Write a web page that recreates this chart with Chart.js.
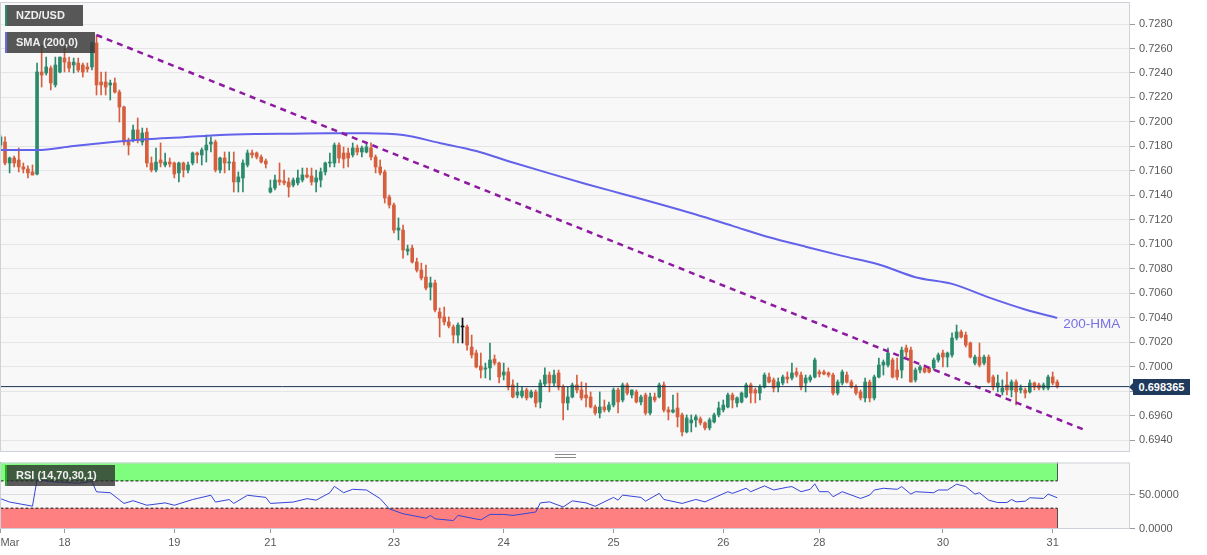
<!DOCTYPE html>
<html>
<head>
<meta charset="utf-8">
<script src="https://cdn.jsdelivr.net/npm/chart.js@4.4.0/dist/chart.umd.min.js"></script>
<style>
  html, body { margin: 0; padding: 0; background: #fff; }
  body { width: 1207px; height: 555px; overflow: hidden; position: relative; font-family: 'Liberation Sans', Arial, sans-serif; }
  canvas { position: absolute; left: 0; }
  #mainCanvas { top: 0; }
  #rsiCanvas { top: 455px; }
  .tag { position: absolute; height: 21px; line-height: 21px; color: #f0f0f0; font-size: 11px; font-weight: bold; padding-left: 9px; box-sizing: border-box; white-space: nowrap; }
  #tagPair { left: 5px; top: 5px; width: 78px; background: rgba(60,60,60,0.86); border-left: 2px solid #2a8a6a; }
  #tagSma { left: 5px; top: 32px; width: 90px; background: rgba(60,60,60,0.86); border-left: 2px solid #6a6ad8; }
  #tagRsi { left: 5px; top: 465px; width: 110px; background: rgba(45,45,45,0.78); border-left: 2px solid #22b022; }
  #hmaTag { position: absolute; color: #7a70e6; font-size: 13.5px; line-height: 16px; white-space: nowrap; }
  #priceTag { position: absolute; left: 1133px; width: 57px; height: 16px; line-height: 16px; background: #1f3a5c; color: #fff; font-size: 11px; font-weight: bold; text-align: center; }
  #priceTag:before { content: ''; position: absolute; left: -4px; top: 4px; border-top: 4px solid transparent; border-bottom: 4px solid transparent; border-right: 4px solid #1f3a5c; }
  #handle { position: absolute; left: 555px; top: 454px; width: 21px; height: 2px; border-top: 1px solid #8a8a8a; border-bottom: 1px solid #8a8a8a; }
</style>
</head>
<body>
<canvas id="mainCanvas" width="1207" height="455"></canvas>
<canvas id="rsiCanvas" width="1207" height="100"></canvas>
<div class="tag" id="tagPair">NZD/USD</div>
<div class="tag" id="tagSma">SMA (200,0)</div>
<div class="tag" id="tagRsi">RSI (14,70,30,1)</div>
<div id="hmaTag">200-HMA</div>
<div id="priceTag">0.698365</div>
<div id="handle"></div>
<script>
// ---------- DATA (hourly NZD/USD candles, index 0 = first candle) ----------
const tickIdx = [0, 14, 38, 59, 86, 110, 134, 158, 179, 206, 230];
const tickLabels = ['Mar', '18', '19', '21', '23', '24', '25', '26', '28', '30', '31'];
const yTicks = [0.6940, 0.6960, 0.6980, 0.7000, 0.7020, 0.7040, 0.7060, 0.7080, 0.7100, 0.7120, 0.7140, 0.7160, 0.7180, 0.7200, 0.7220, 0.7240, 0.7260, 0.7280];
const rsiTicks = [0, 50];

const open = [
0.71811,0.71836,0.71664,0.71705,0.71689,0.71632,0.71615,0.71591,0.71574,0.72408,
0.72400,0.72440,0.72302,0.72408,0.72522,0.72489,0.72465,0.72481,0.72465,0.72449,
0.72449,0.72645,0.72326,0.72326,0.72302,0.72318,0.72244,0.72122,0.71836,0.71852,
0.71934,0.71836,0.71917,0.71664,0.71607,0.71689,0.71648,0.71672,0.71664,0.71583,
0.71664,0.71607,0.71664,0.71746,0.71730,0.71770,0.71819,0.71836,0.71607,0.71705,
0.71664,0.71672,0.71509,0.71542,0.71648,0.71746,0.71746,0.71713,0.71681,0.71427,
0.71460,0.71525,0.71517,0.71509,0.71484,0.71501,0.71525,0.71566,0.71558,0.71509,
0.71525,0.71591,0.71664,0.71664,0.71811,0.71746,0.71746,0.71730,0.71787,0.71754,
0.71754,0.71787,0.71713,0.71632,0.71591,0.71386,0.71321,0.71116,0.71116,0.70944,
0.70969,0.70855,0.70789,0.70732,0.70650,0.70683,0.70446,0.70406,0.70365,0.70324,
0.70258,0.70324,0.70324,0.70160,0.70111,0.70005,0.69980,0.69989,0.70062,0.70029,
0.69931,0.69956,0.69850,0.69768,0.69760,0.69809,0.69752,0.69793,0.69711,0.69858,
0.69931,0.69866,0.69948,0.69833,0.69703,0.69752,0.69850,0.69809,0.69768,0.69752,
0.69670,0.69621,0.69670,0.69646,0.69686,0.69809,0.69727,0.69850,0.69768,0.69793,
0.69711,0.69768,0.69621,0.69752,0.69752,0.69850,0.69646,0.69629,0.69662,0.69605,
0.69466,0.69540,0.69564,0.69572,0.69540,0.69499,0.69548,0.69605,0.69646,0.69670,
0.69768,0.69703,0.69711,0.69752,0.69850,0.69809,0.69784,0.69833,0.69915,0.69891,
0.69833,0.69866,0.69915,0.69907,0.69956,0.69931,0.69866,0.69891,0.69915,0.69956,
0.69956,0.69948,0.69931,0.69784,0.69866,0.69931,0.69874,0.69833,0.69793,0.69744,
0.69874,0.69744,0.69915,0.70013,0.70013,0.70054,0.69972,0.69972,0.70152,0.70135,
0.69891,0.69972,0.69989,0.69989,0.69989,0.70054,0.70111,0.70078,0.70095,0.70234,
0.70283,0.70258,0.70193,0.70029,0.70078,0.70029,0.70078,0.69915,0.69833,0.69793,
0.69850,0.69809,0.69874,0.69809,0.69809,0.69793,0.69866,0.69850,0.69825,0.69825,
0.69915,0.69874];

const high = [
0.71893,0.71877,0.71713,0.71721,0.71787,0.71664,0.71640,0.71648,0.72481,0.72628,
0.72530,0.72457,0.72530,0.72530,0.72612,0.72530,0.72522,0.72522,0.72481,0.72481,
0.72653,0.72710,0.72408,0.72408,0.72342,0.72359,0.72261,0.72130,0.71868,0.71975,
0.72032,0.71950,0.71950,0.71713,0.71787,0.71828,0.71746,0.71705,0.71672,0.71672,
0.71672,0.71672,0.71754,0.71754,0.71787,0.71893,0.71877,0.71852,0.71713,0.71754,
0.71754,0.71754,0.71591,0.71689,0.71770,0.71770,0.71754,0.71730,0.71697,0.71525,
0.71566,0.71664,0.71607,0.71542,0.71542,0.71607,0.71623,0.71623,0.71623,0.71607,
0.71623,0.71672,0.71746,0.71828,0.71828,0.71795,0.71787,0.71828,0.71811,0.71803,
0.71836,0.71828,0.71730,0.71689,0.71607,0.71403,0.71337,0.71215,0.71157,0.70993,
0.70993,0.70887,0.70846,0.70830,0.70732,0.70708,0.70479,0.70487,0.70406,0.70340,
0.70357,0.70397,0.70340,0.70258,0.70135,0.70111,0.70029,0.70193,0.70095,0.70037,
0.70029,0.69989,0.69891,0.69866,0.69833,0.69825,0.69809,0.69809,0.69891,0.69989,
0.69956,0.69972,0.69972,0.69850,0.69833,0.69866,0.69931,0.69874,0.69866,0.69793,
0.69686,0.69793,0.69727,0.69711,0.69825,0.69825,0.69866,0.69866,0.69809,0.69809,
0.69768,0.69784,0.69784,0.69784,0.69866,0.69874,0.69670,0.69768,0.69784,0.69621,
0.69605,0.69605,0.69605,0.69589,0.69548,0.69580,0.69621,0.69711,0.69727,0.69784,
0.69784,0.69752,0.69793,0.69866,0.69866,0.69825,0.69850,0.69948,0.69948,0.69907,
0.69907,0.69931,0.69956,0.70029,0.69989,0.69956,0.69931,0.69931,0.70070,0.69972,
0.69972,0.69956,0.69948,0.69891,0.69972,0.69956,0.69891,0.69850,0.69809,0.69907,
0.69891,0.69931,0.70070,0.70054,0.70152,0.70070,0.70070,0.70160,0.70176,0.70160,
0.69989,0.70013,0.70013,0.69997,0.70070,0.70111,0.70135,0.70119,0.70275,0.70340,
0.70299,0.70283,0.70201,0.70095,0.70193,0.70095,0.70095,0.69931,0.69931,0.69891,
0.69956,0.69891,0.69891,0.69850,0.69825,0.69891,0.69874,0.69866,0.69866,0.69931,
0.69956,0.69891];

const low = [
0.71770,0.71648,0.71583,0.71632,0.71591,0.71583,0.71542,0.71566,0.71566,0.72285,
0.72383,0.72261,0.72285,0.72400,0.72408,0.72408,0.72400,0.72408,0.72367,0.72408,
0.72424,0.72220,0.72220,0.72220,0.72179,0.72236,0.71999,0.71811,0.71730,0.71836,
0.71828,0.71811,0.71632,0.71591,0.71591,0.71632,0.71632,0.71632,0.71542,0.71509,
0.71550,0.71583,0.71648,0.71664,0.71648,0.71672,0.71754,0.71591,0.71583,0.71583,
0.71607,0.71427,0.71427,0.71427,0.71632,0.71705,0.71697,0.71664,0.71623,0.71419,
0.71444,0.71484,0.71484,0.71386,0.71468,0.71484,0.71509,0.71542,0.71484,0.71427,
0.71468,0.71566,0.71632,0.71632,0.71664,0.71623,0.71632,0.71713,0.71730,0.71713,
0.71746,0.71689,0.71583,0.71566,0.71337,0.71296,0.71092,0.71035,0.70887,0.70912,
0.70846,0.70773,0.70708,0.70626,0.70544,0.70446,0.70242,0.70340,0.70316,0.70193,
0.70193,0.70193,0.70135,0.70070,0.69989,0.69907,0.69907,0.69891,0.70013,0.69866,
0.69891,0.69809,0.69744,0.69744,0.69744,0.69727,0.69744,0.69670,0.69662,0.69841,
0.69793,0.69841,0.69809,0.69564,0.69646,0.69744,0.69784,0.69727,0.69670,0.69662,
0.69605,0.69580,0.69629,0.69629,0.69670,0.69621,0.69711,0.69768,0.69744,0.69703,
0.69686,0.69605,0.69605,0.69711,0.69744,0.69629,0.69564,0.69621,0.69507,0.69433,
0.69458,0.69466,0.69507,0.69523,0.69482,0.69482,0.69540,0.69589,0.69629,0.69662,
0.69662,0.69670,0.69703,0.69744,0.69703,0.69703,0.69727,0.69825,0.69866,0.69793,
0.69793,0.69850,0.69866,0.69891,0.69915,0.69809,0.69793,0.69874,0.69907,0.69915,
0.69931,0.69915,0.69768,0.69768,0.69850,0.69866,0.69825,0.69768,0.69727,0.69711,
0.69711,0.69727,0.69907,0.69931,0.69997,0.69907,0.69891,0.69907,0.70078,0.69874,
0.69874,0.69948,0.69948,0.69948,0.69972,0.70037,0.69997,0.69997,0.70078,0.70218,
0.70234,0.70160,0.70070,0.70013,0.69997,0.70013,0.69866,0.69809,0.69793,0.69768,
0.69768,0.69752,0.69686,0.69784,0.69744,0.69784,0.69809,0.69809,0.69809,0.69809,
0.69850,0.69825];

const close = [
0.71877,0.71664,0.71705,0.71664,0.71632,0.71615,0.71583,0.71566,0.72408,0.72383,
0.72449,0.72318,0.72465,0.72530,0.72489,0.72440,0.72489,0.72424,0.72408,0.72432,
0.72645,0.72302,0.72302,0.72285,0.72318,0.72244,0.72122,0.71836,0.71811,0.71934,
0.71852,0.71909,0.71664,0.71607,0.71672,0.71664,0.71672,0.71656,0.71574,0.71664,
0.71607,0.71648,0.71746,0.71730,0.71770,0.71811,0.71836,0.71607,0.71705,0.71664,
0.71672,0.71509,0.71550,0.71664,0.71746,0.71730,0.71713,0.71672,0.71656,0.71460,
0.71525,0.71509,0.71501,0.71468,0.71525,0.71542,0.71566,0.71550,0.71509,0.71542,
0.71591,0.71664,0.71672,0.71811,0.71705,0.71697,0.71705,0.71787,0.71754,0.71787,
0.71795,0.71713,0.71632,0.71583,0.71378,0.71321,0.71116,0.71133,0.70953,0.70961,
0.70855,0.70789,0.70724,0.70642,0.70683,0.70463,0.70397,0.70365,0.70332,0.70258,
0.70340,0.70324,0.70176,0.70095,0.69997,0.69972,0.69989,0.70054,0.70029,0.69915,
0.69956,0.69833,0.69752,0.69793,0.69801,0.69744,0.69793,0.69703,0.69866,0.69931,
0.69866,0.69931,0.69833,0.69703,0.69752,0.69850,0.69809,0.69744,0.69744,0.69670,
0.69621,0.69670,0.69646,0.69686,0.69809,0.69711,0.69850,0.69784,0.69809,0.69711,
0.69752,0.69621,0.69752,0.69727,0.69850,0.69646,0.69629,0.69646,0.69589,0.69466,
0.69580,0.69564,0.69589,0.69540,0.69499,0.69564,0.69605,0.69662,0.69686,0.69768,
0.69727,0.69744,0.69784,0.69850,0.69784,0.69784,0.69833,0.69931,0.69874,0.69825,
0.69874,0.69915,0.69899,0.69948,0.69931,0.69833,0.69907,0.69915,0.70054,0.69940,
0.69940,0.69931,0.69784,0.69874,0.69956,0.69874,0.69833,0.69784,0.69744,0.69874,
0.69744,0.69915,0.70013,0.70037,0.70111,0.69915,0.69915,0.70135,0.70119,0.69874,
0.69972,0.69997,0.69956,0.69956,0.70054,0.70095,0.70078,0.70111,0.70234,0.70283,
0.70242,0.70176,0.70078,0.70078,0.70013,0.70078,0.69874,0.69833,0.69866,0.69825,
0.69809,0.69874,0.69793,0.69825,0.69784,0.69866,0.69833,0.69825,0.69850,0.69915,
0.69866,0.698365];

const lastPrice = 0.698365;

// 200-period HMA, read at candle indexes
const hmaIdx = [0, 8, 16, 24, 32, 40, 48, 56, 64, 72, 80, 88, 96, 104, 112, 120, 128, 136, 144, 152, 160, 168, 176, 184, 192, 200, 208, 216, 224, 231];
const hmaVal = [0.71770, 0.71770, 0.71803, 0.71833, 0.71858, 0.71874, 0.71893, 0.71901, 0.71904, 0.71907, 0.71907, 0.71893, 0.71828, 0.71762, 0.71668, 0.71579, 0.71493, 0.71411, 0.71329, 0.71243, 0.71150, 0.71057, 0.70980, 0.70905, 0.70835, 0.70731, 0.70676, 0.70566, 0.70467, 0.70398];

// descending trend line (two anchor points)
const trendIdx = [21, 237];
const trendVal = [0.72710, 0.69482];

// RSI(14) read at candle indexes
const rsiIdx = [0,2,7,8,11,17,20,21,24,27,29,32,36,38,42,46,47,50,51,54,58,59,64,67,69,72,73,75,77,80,83,85,88,93,94,95,99,100,105,107,110,112,117,118,120,123,125,128,130,134,135,136,140,141,144,145,149,152,154,159,160,163,164,167,169,172,173,175,177,178,179,181,182,184,188,190,191,193,196,197,199,200,204,205,207,209,211,213,214,216,218,220,221,222,224,225,228,229,231];
const rsiVal = [44,39,33,72,69,66.6,69,54,52.7,37,41,34.3,37.8,34.3,42.7,49,39,42.7,37,49,45.8,37,39,44,41.8,52.7,62,52.7,57.7,56.7,44,29,21.9,15.4,19.4,14.4,11.9,19.4,12.9,20.9,20.9,19.4,24.4,37.8,39.3,31.8,40.8,37.8,32.8,45.8,41.8,49.2,45.8,40.3,51.7,42.8,37,42.8,39.3,54.2,51.7,59.2,54.2,62.7,56.7,60.7,61.7,54.2,57.7,65.7,54.2,54.2,46.8,54.2,44.3,49.2,56.7,59.2,57.7,61.7,50.7,54.2,52.7,56.7,56.7,65.2,61.7,50.7,52.7,41.8,38.3,38.3,42.8,39.3,40.3,45.3,44.3,50.7,45.3];
const rsiUpper = 70, rsiLower = 30;

// ---------- STYLE / LAYOUT ----------
const X_MIN = -0.1, X_MAX = 246.9;
const UP = '#2b8a6b', DOWN = '#d65f3e', DOJI = '#111';
Chart.defaults.font.family = "'Liberation Sans', Arial, sans-serif";
Chart.defaults.color = '#555';

const candleColor = (i) => close[i] > open[i] ? UP : (close[i] < open[i] ? DOWN : DOJI);

const panelFrame = {
  id: 'panelFrame',
  beforeDraw(chart) {
    const { ctx, chartArea: a } = chart;
    ctx.save();
    ctx.fillStyle = '#f8f8f9';
    ctx.fillRect(a.left, a.top, a.right - a.left, a.bottom - a.top);
    ctx.restore();
  },
  afterDraw(chart) {
    const { ctx, chartArea: a } = chart;
    ctx.save();
    ctx.strokeStyle = '#cdd1da';
    ctx.lineWidth = 1;
    ctx.strokeRect(a.left + 0.5, a.top + 0.5, a.right - a.left - 1, a.bottom - a.top - 1);
    ctx.restore();
  }
};

const fitRight = (s) => { s.width = 77; s.paddingTop = 0; s.paddingBottom = 0; };

const mainChart = new Chart(document.getElementById('mainCanvas'), {
  type: 'bar',
  data: {
    datasets: [
      { type: 'line', label: 'last', data: [{ x: X_MIN, y: lastPrice }, { x: X_MAX, y: lastPrice }],
        borderColor: '#1c3452', borderWidth: 1, pointRadius: 0, order: 0 },
      { type: 'line', label: 'trend', data: trendIdx.map((x, k) => ({ x, y: trendVal[k] })),
        borderColor: '#8e1aa0', borderWidth: 2.5, borderDash: [6, 5], pointRadius: 0, order: 1 },
      { type: 'line', label: '200-HMA', data: hmaIdx.map((x, k) => ({ x, y: hmaVal[k] })),
        borderColor: '#6262ea', borderWidth: 2, pointRadius: 0, cubicInterpolationMode: 'monotone', order: 2 },
      { type: 'bar', label: 'body', data: open.map((o, i) => ({ x: i, y: [o, close[i]] })),
        backgroundColor: (c) => candleColor(c.dataIndex), barThickness: 3, minBarLength: 1, grouped: false, order: 3 },
      { type: 'bar', label: 'wick', data: low.map((l, i) => ({ x: i, y: [l, high[i]] })),
        backgroundColor: (c) => candleColor(c.dataIndex), barThickness: 1, grouped: false, order: 4 }
    ]
  },
  options: {
    responsive: false,
    animation: false,
    events: [],
    layout: { padding: { top: 2, bottom: 3, left: 0, right: 0 } },
    plugins: { legend: { display: false }, tooltip: { enabled: false } },
    scales: {
      x: { type: 'linear', min: X_MIN, max: X_MAX, offset: false, display: false, grid: { offset: false } },
      y: {
        position: 'right', min: 0.69302, max: 0.72980,
        afterBuildTicks: (s) => { s.ticks = yTicks.map(v => ({ value: v })); },
        afterFit: fitRight,
        ticks: { callback: (v) => Number(v).toFixed(4), font: { size: 11 }, color: '#5a5a5a', padding: 4 },
        grid: { color: '#e5e5e8', tickColor: '#9a9a9a', tickLength: 5 },
        border: { display: false }
      }
    }
  },
  plugins: [panelFrame]
});

const bandEdge = (x, y0, y1) => ({ type: 'line', data: [{ x, y: y0 }, { x, y: y1 }], borderColor: '#111', borderWidth: 1, pointRadius: 0, fill: false, order: 5 });
const bandEnd = rsiIdx[rsiIdx.length - 1];

const rsiChart = new Chart(document.getElementById('rsiCanvas'), {
  type: 'line',
  data: {
    datasets: [
      { label: 'RSI', data: rsiIdx.map((x, k) => ({ x, y: rsiVal[k] })), borderColor: '#3545d6', borderWidth: 1, pointRadius: 0, fill: false, order: 0 },
      { label: 'ob', data: [{ x: 0, y: rsiUpper }, { x: bandEnd, y: rsiUpper }], borderColor: '#111', borderWidth: 1, borderDash: [3, 2], pointRadius: 0, fill: false, order: 2 },
      { label: 'obTop', data: [{ x: 0, y: 100 }, { x: bandEnd, y: 100 }], borderWidth: 0, pointRadius: 0, fill: '-1', backgroundColor: '#80fc7e', order: 3 },
      { label: 'os', data: [{ x: 0, y: rsiLower }, { x: bandEnd, y: rsiLower }], borderColor: '#111', borderWidth: 1, borderDash: [3, 2], pointRadius: 0, fill: false, order: 2 },
      { label: 'osBottom', data: [{ x: 0, y: 0 }, { x: bandEnd, y: 0 }], borderWidth: 0, pointRadius: 0, fill: '-1', backgroundColor: '#ff8080', order: 3 },
      bandEdge(bandEnd, rsiUpper, 100), bandEdge(bandEnd, 0, rsiLower),
      bandEdge(0, rsiUpper, 100), bandEdge(0, 0, rsiLower)
    ]
  },
  options: {
    responsive: false,
    animation: false,
    events: [],
    layout: { padding: { top: 7.5, bottom: 0, left: 0, right: 0 } },
    plugins: { legend: { display: false }, tooltip: { enabled: false } },
    scales: {
      x: {
        type: 'linear', min: X_MIN, max: X_MAX, offset: false,
        afterBuildTicks: (s) => { s.ticks = tickIdx.map(v => ({ value: v })).concat([{ value: X_MAX }]); },
        afterFit: (s) => { s.height = 26; s.paddingLeft = 0; s.paddingRight = 0; },
        ticks: { callback: (v, i) => (i < tickLabels.length ? tickLabels[i] : ''), align: 'inner', autoSkip: false, maxRotation: 0, minRotation: 0, font: { size: 11 }, color: '#5a5a5a', padding: 3 },
        grid: { drawOnChartArea: false, drawTicks: true, tickLength: 4, tickColor: (c) => (c.index >= tickIdx.length ? 'rgba(0,0,0,0)' : '#9a9a9a') },
        border: { display: false }
      },
      y: {
        position: 'right', min: -0.5, max: 97,
        afterBuildTicks: (s) => { s.ticks = rsiTicks.map(v => ({ value: v })); },
        afterFit: fitRight,
        ticks: { callback: (v) => Number(v).toFixed(4), font: { size: 11 }, color: '#5a5a5a', padding: 4 },
        grid: { color: (c) => (c.tick && c.tick.value === 50 ? '#dedee2' : 'rgba(0,0,0,0)'), tickColor: '#9a9a9a', tickLength: 5 },
        border: { display: false }
      }
    }
  },
  plugins: [panelFrame]
});

// place the value tags from the library's scales
const xs = mainChart.scales.x, ys = mainChart.scales.y;
const priceTag = document.getElementById('priceTag');
priceTag.style.top = (ys.getPixelForValue(lastPrice) - 8) + 'px';
const hmaTag = document.getElementById('hmaTag');
const lastH = hmaIdx.length - 1;
hmaTag.style.left = (xs.getPixelForValue(hmaIdx[lastH]) + 6) + 'px';
hmaTag.style.top = (ys.getPixelForValue(hmaVal[lastH]) - 2) + 'px';
</script>
</body>
</html>
